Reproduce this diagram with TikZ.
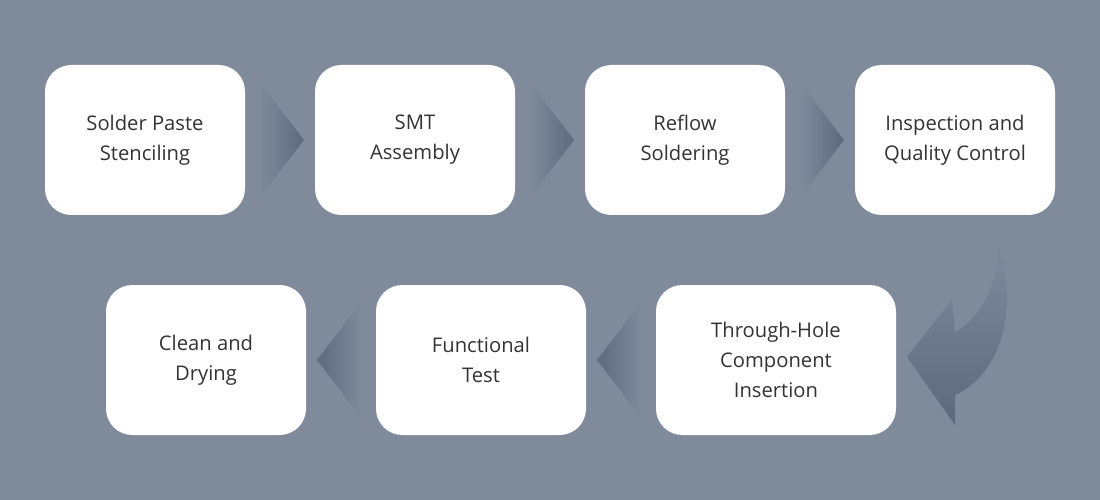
\documentclass[tikz,border=0pt]{standalone}
\usepackage{fontspec}
\setsansfont{Open Sans}
\usetikzlibrary{positioning}
\definecolor{bgc}{HTML}{7F8B9B}
\definecolor{arrc}{HTML}{5D687A}
\definecolor{txtc}{HTML}{333333}
\tikzset{
  stagebox/.style={fill=white, rounded corners=15pt, minimum height=150*0.02cm,
    align=center, text=txtc, font=\sffamily\fontsize{11.5}{17}\selectfont},
  chevron/.style={left color=bgc, right color=arrc}
}
\begin{document}
\begin{tikzpicture}[x=0.02cm, y=-0.02cm]
        \fill[bgc] (0,0) rectangle (1100,500);
        \useasboundingbox (0,0) rectangle (1100,500);

        \node[stagebox, minimum width=200*0.02cm] (paste) at (145,140) {Solder Paste\\Stenciling};
        \node[stagebox, minimum width=200*0.02cm] (smt) at (415,140) {SMT\\Assembly};
        \node[stagebox, minimum width=200*0.02cm] (reflow) at (685,140) {Reflow\\Soldering};
        \node[stagebox, minimum width=200*0.02cm] (inspect) at (955,140) {Inspection and\\Quality Control};
        \node[stagebox, minimum width=240*0.02cm] (thru) at (776,360) {Through-Hole\\Component\\Insertion};
        \node[stagebox, minimum width=210*0.02cm] (func) at (481,360) {Functional\\Test};
        \node[stagebox, minimum width=200*0.02cm] (clean) at (206,360) {Clean and\\Drying};

        \shade[chevron] (260,83) -- (304,140) -- (260,197) -- cycle;
        \shade[chevron] (530,83) -- (574,140) -- (530,197) -- cycle;
        \shade[chevron] (800,83) -- (844,140) -- (800,197) -- cycle;
        \shade[left color=arrc, right color=bgc] (641,303) -- (597,360) -- (641,417) -- cycle;
        \shade[left color=arrc, right color=bgc] (361,303) -- (317,360) -- (361,417) -- cycle;

        \shade[top color=bgc, bottom color=arrc]
          (998,245) .. controls (1020,310) and (1000,375) .. (955,395)
          -- (955,425) -- (907,357) -- (952,300) -- (955,332)
          .. controls (985,315) and (998,280) .. (998,245) -- cycle;

    \end{tikzpicture}
\end{document}
